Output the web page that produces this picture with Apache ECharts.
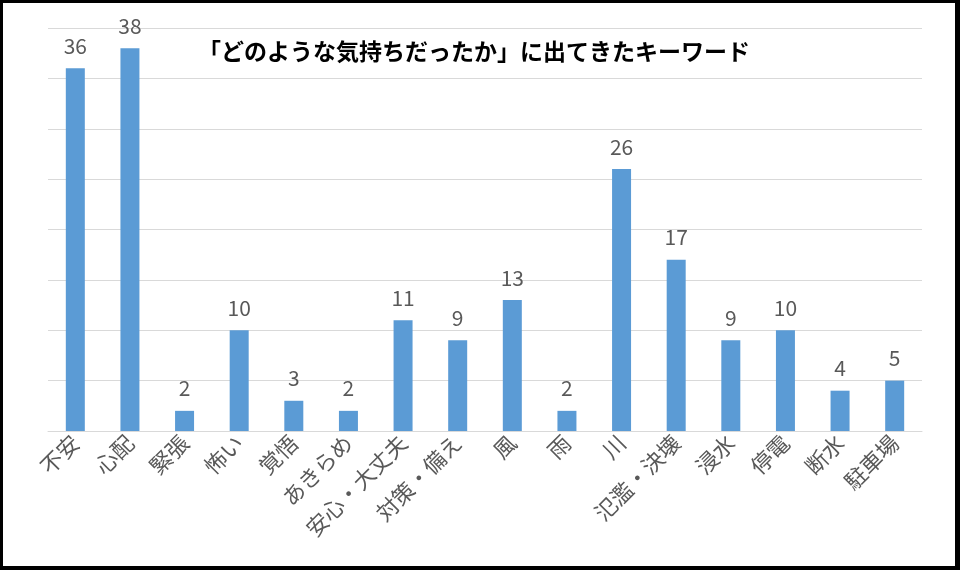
<!DOCTYPE html>
<html><head><meta charset="utf-8">
<script src="https://cdn.jsdelivr.net/npm/echarts@6/dist/echarts.min.js"></script>
<style>
html,body{margin:0;padding:0;background:#fff;}
#wrap{width:960px;height:570px;box-sizing:border-box;border-style:solid;border-color:#000;border-width:3px 5px 4px 3px;background:#fff;}
#chart{width:952px;height:563px;}
</style></head>
<body><div id="wrap"><div id="chart"></div></div>
<script>
const titleText = "「どのような気持ちだったか」に出てきたキーワード";
const categories = ["不安","心配","緊張","怖い","覚悟","あきらめ","安心・大丈夫","対策・備え","風","雨","川","氾濫・決壊","浸水","停電","断水","駐車場"];
const values = [36,38,2,10,3,2,11,9,13,2,26,17,9,10,4,5];

const chart = echarts.init(document.getElementById('chart'));
const font = '"Noto Sans CJK JP", "Noto Sans", sans-serif';
chart.setOption({
  animation:false,
  title:{text:titleText,left:190,top:32,
    textStyle:{fontFamily:font,fontSize:23,fontWeight:'bold',color:'#000'}},
  grid:{left:45,right:33,top:25,bottom:135},
  xAxis:{type:'category',data:categories,
    axisLine:{lineStyle:{color:'#d9d9d9',width:1}},
    axisTick:{show:false},
    axisLabel:{rotate:45,interval:0,fontFamily:font,fontSize:22,color:'#595959',margin:8}},
  yAxis:{type:'value',min:0,max:40,interval:5,
    axisLabel:{show:false},axisLine:{show:false},axisTick:{show:false},
    splitLine:{lineStyle:{color:'#d9d9d9',width:1}}},
  series:[{type:'bar',data:values,barWidth:19,
    itemStyle:{color:'#5b9bd5'},
    label:{show:true,position:'top',distance:12,fontFamily:font,fontSize:21,color:'#595959'}}]
});
</script></body></html>
